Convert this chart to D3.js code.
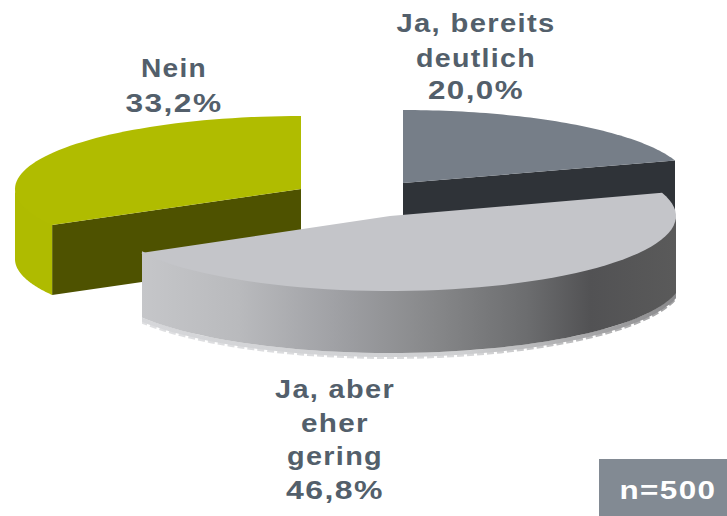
<!DOCTYPE html>
<html>
<head>
<meta charset="utf-8">
<script src="https://cdn.jsdelivr.net/npm/d3@7"></script>
<style>
  html, body { margin: 0; padding: 0; background: #fff; }
  svg { display: block; }
  text { font-family: "Liberation Sans", Arial, sans-serif; font-weight: 700; text-anchor: middle; letter-spacing: 1.2px; }
</style>
</head>
<body>
<div id="chart"></div>
<script>
const categories = ["Ja, bereits deutlich", "Ja, aber eher gering", "Nein"];
const shares = [20.0, 46.8, 33.2];
const valueLabels = ["20,0%", "46,8%", "33,2%"];
const labelLines = [["Ja, bereits", "deutlich"], ["Ja, aber", "eher", "gering"], ["Nein"]];
const sampleSize = "n=500";

const width = 727, height = 516;
const textColor = "#535f6b";

// where each exploded slice sits, and how it looks
const layout = [
    {cx: 403, cy: 183, rx: 286, ry: 73, depth: 68, top: "#767e88", inner: "#2f3338", outer: "#5a5a5a",
        labelX: 476, labelY: [32, 67, 99], labelW: [159, 120, 96]},
    {cx: 390, cy: 216, rx: 286, ry: 75, depth: 62, top: "#c4c5c9", inner: "#c4c5c9", outer: "url(#wallGrey)",
        labelX: 335, labelY: [398, 432, 465, 499], labelW: [120, 68, 96, 98]},
    {cx: 301, cy: 189, rx: 286, ry: 73, depth: 70, top: "#b0bc00", inner: "#4e5200", outer: "#afbb00",
        labelX: 174, labelY: [77, 112], labelW: [66, 97]}
];

const svg = d3.select("#chart").append("svg")
    .attr("width", width)
    .attr("height", height);

const defs = svg.append("defs");

const grey = defs.append("linearGradient")
    .attr("id", "wallGrey")
    .attr("gradientUnits", "userSpaceOnUse")
    .attr("x1", 142).attr("x2", 676).attr("y1", 0).attr("y2", 0);
[[0, "#c5c6c9"], [0.18, "#b9babd"], [0.36, "#a0a1a5"], [0.55, "#868789"], [0.72, "#6c6d6f"], [0.84, "#525254"], [1, "#5a5a5a"]]
    .forEach(s => grey.append("stop").attr("offset", s[0]).attr("stop-color", s[1]));

const fringe = defs.append("linearGradient")
    .attr("id", "wallFringe")
    .attr("gradientUnits", "userSpaceOnUse")
    .attr("x1", 142).attr("x2", 676).attr("y1", 0).attr("y2", 0);
[[0, "#d6d7da"], [0.6, "#cfd0d2"], [0.85, "#a5a5a7"], [1, "#8a8a8c"]]
    .forEach(s => fringe.append("stop").attr("offset", s[0]).attr("stop-color", s[1]));

// the front wall has straight cut ends left and right
defs.append("clipPath").attr("id", "frontWall")
    .append("rect").attr("x", 142).attr("y", 180).attr("width", 534).attr("height", 200);

const pie = d3.pie().sort(null).value(d => d);
const arcs = pie(shares);
const line = d3.line();

function rim(i, from, to, drop, widen) {
    const l = layout[i];
    const rx = l.rx + widen;
    const x = d3.scaleLinear().domain([-1, 1]).range([l.cx - rx, l.cx + rx]);
    const y = d3.scaleLinear().domain([-1, 1]).range([l.cy - l.ry + drop, l.cy + l.ry + drop]);
    return d3.range(0, 61).map(k => {
        const a = from + (to - from) * k / 60;
        return [x(Math.sin(a)), y(-Math.cos(a))];
    });
}

// upper edge starts a little higher so it tucks under the top face
function wallPath(i, from, to, depth, widen) {
    const upper = rim(i, from, to, -2, 0);
    const lower = rim(i, from, to, depth, widen).reverse();
    return line(upper.concat(lower)) + "Z";
}

function drawSlice(i) {
    const d = arcs[i], l = layout[i];
    const g = svg.append("g");
    const right = Math.PI / 2;

    // cut face, only the one that looks towards the viewer
    if (i !== 1) {
        const angle = i === 0 ? d.endAngle : d.startAngle;
        const edge = rim(i, angle, angle, 0, 0)[0];
        g.append("path")
            .attr("d", line([[l.cx, l.cy], edge, [edge[0], edge[1] + l.depth], [l.cx, l.cy + l.depth]]) + "Z")
            .attr("fill", l.inner);
    }

    // outer wall, back half is hidden
    if (i === 1) {
        g.append("path")
            .attr("clip-path", "url(#frontWall)")
            .attr("d", line(rim(i, right, d.endAngle, l.depth + 2, 6)))
            .attr("fill", "none")
            .attr("stroke", "url(#wallFringe)")
            .attr("stroke-width", 4);
        g.append("path")
            .attr("clip-path", "url(#frontWall)")
            .attr("d", line(rim(i, right, d.endAngle, l.depth + 4, 6)))
            .attr("fill", "none")
            .attr("stroke", "url(#wallFringe)")
            .attr("stroke-width", 4)
            .attr("stroke-opacity", 0.8)
            .attr("stroke-dasharray", "7 3");
        g.append("path")
            .attr("clip-path", "url(#frontWall)")
            .attr("d", wallPath(i, right, d.endAngle, l.depth, 6))
            .attr("fill", l.outer);
    }
    if (i === 2) {
        g.append("path").attr("d", wallPath(i, d.startAngle, 3 * right, l.depth, 0)).attr("fill", l.outer);
    }

    // top face
    g.append("path")
        .attr("d", line([[l.cx, l.cy]].concat(rim(i, d.startAngle, d.endAngle, 0, 0))) + "Z")
        .attr("fill", l.top);
}

// back slices first, the big front one covers them
[2, 0, 1].forEach(drawSlice);

layout.forEach((l, i) => {
    const lines = labelLines[i].concat(valueLabels[i]);
    svg.append("g").selectAll("text")
        .data(lines)
        .join("text")
        .attr("x", l.labelX)
        .attr("y", (t, k) => l.labelY[k])
        .attr("font-size", 26.5)
        .attr("textLength", (t, k) => l.labelW[k])
        .attr("lengthAdjust", "spacingAndGlyphs")
        .attr("fill", textColor)
        .text(t => t);
});

svg.append("rect")
    .attr("x", 599).attr("y", 459)
    .attr("width", 128).attr("height", 57)
    .attr("fill", "#828a93");

svg.append("text")
    .attr("x", 668).attr("y", 499)
    .attr("font-size", 26.5)
    .attr("textLength", 97)
    .attr("lengthAdjust", "spacingAndGlyphs")
    .attr("fill", "#fff")
    .text(sampleSize);
</script>
</body>
</html>
